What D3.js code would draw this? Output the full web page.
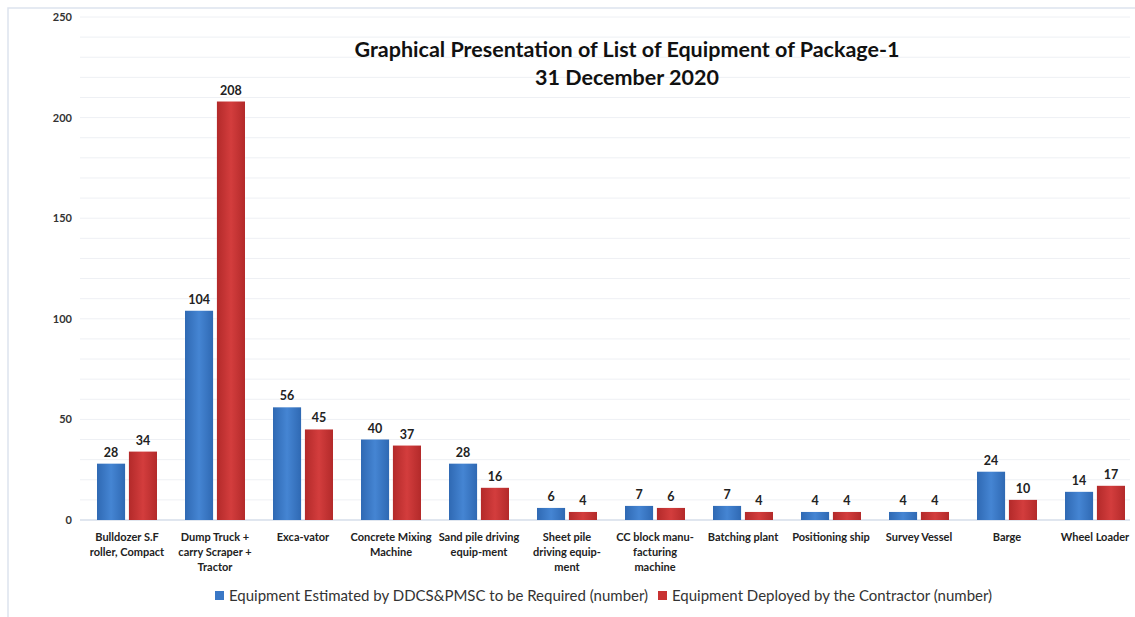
<!DOCTYPE html>
<html>
<head>
<meta charset="utf-8">
<script src="https://cdn.jsdelivr.net/npm/d3@7"></script>
<style>
  body { margin: 0; background: #fff; }
  text { font-family: Lato, "Open Sans", sans-serif; }
</style>
</head>
<body>
<script>
// chart data
var categories = [
  ['Bulldozer S.F', 'roller, Compact'],
  ['Dump Truck +', 'carry Scraper +', 'Tractor'],
  ['Exca-vator'],
  ['Concrete Mixing', 'Machine'],
  ['Sand pile driving', 'equip-ment'],
  ['Sheet pile', 'driving equip-', 'ment'],
  ['CC block manu-', 'facturing', 'machine'],
  ['Batching plant'],
  ['Positioning ship'],
  ['Survey Vessel'],
  ['Barge'],
  ['Wheel Loader']
];
var estimated = [28, 104, 56, 40, 28, 6, 7, 7, 4, 4, 24, 14];
var deployed = [34, 208, 45, 37, 16, 4, 6, 4, 4, 4, 10, 17];
var seriesNames = [
  'Equipment Estimated by DDCS&PMSC to be Required (number)',
  'Equipment Deployed by the Contractor (number)'
];
var yTicks = [0, 50, 100, 150, 200, 250];

var width = 1135;
var height = 617;
var colors = ['#3a78c6', '#c83232'];

var svg = d3.select('body').append('svg')
  .attr('width', width)
  .attr('height', height);

// gradients for the slightly shaded bars
var defs = svg.append('defs');
[['gBlue', '#2f69b3', '#4585d3'], ['gRed', '#b32a2a', '#d33d3d']].forEach(function (g) {
  var lg = defs.append('linearGradient').attr('id', g[0])
    .attr('x1', '0%').attr('x2', '100%').attr('y1', '0%').attr('y2', '0%');
  lg.append('stop').attr('offset', '0%').attr('stop-color', g[1]);
  lg.append('stop').attr('offset', '50%').attr('stop-color', g[2]);
  lg.append('stop').attr('offset', '100%').attr('stop-color', g[1]);
});
var fills = ['url(#gBlue)', 'url(#gRed)'];

// faint frame
svg.append('path')
  .attr('d', 'M8,' + height + 'V8H' + width)
  .attr('fill', 'none')
  .attr('stroke', '#dde3ee')
  .attr('stroke-width', 1.5);

var y = d3.scaleLinear().domain([0, 250]).range([520, 17]);
var x = d3.scaleBand().domain(d3.range(categories.length)).range([83, 1139]);
var x1 = d3.scaleBand().domain([0, 1]).range([14, 74]).paddingInner(0.12);

// gridlines every 10
svg.append('g').selectAll('line').data(d3.range(10, 251, 10))
  .enter().append('line')
  .attr('x1', 80).attr('x2', 1130)
  .attr('y1', function (d) { return y(d); })
  .attr('y2', function (d) { return y(d); })
  .attr('stroke', '#eef0f4')
  .attr('stroke-width', 1);

// baseline
svg.append('line')
  .attr('x1', 80).attr('x2', 1130)
  .attr('y1', y(0)).attr('y2', y(0))
  .attr('stroke', '#d6deea')
  .attr('stroke-width', 1.5);

// y axis labels
svg.append('g').selectAll('text').data(yTicks)
  .enter().append('text')
  .attr('x', 72)
  .attr('y', function (d) { return y(d) + 4; })
  .attr('text-anchor', 'end')
  .attr('font-size', 11)
  .attr('font-weight', 'bold')
  .attr('fill', '#333')
  .text(function (d) { return d; });

// bars
var groups = svg.append('g').selectAll('g').data(categories)
  .enter().append('g')
  .attr('transform', function (d, i) { return 'translate(' + x(i) + ',0)'; });

var series = [estimated, deployed];
groups.each(function (d, i) {
  var g = d3.select(this);
  series.forEach(function (s, k) {
    g.append('rect')
      .attr('x', x1(k))
      .attr('width', x1.bandwidth())
      .attr('y', y(s[i]))
      .attr('height', y(0) - y(s[i]))
      .attr('fill', fills[k]);
    g.append('text')
      .attr('x', x1(k) + x1.bandwidth() / 2)
      .attr('y', y(s[i]) - 7)
      .attr('text-anchor', 'middle')
      .attr('font-size', 12.5)
      .attr('font-weight', 'bold')
      .attr('fill', '#222')
      .text(s[i]);
  });
  // category label
  var t = g.append('text')
    .attr('text-anchor', 'middle')
    .attr('font-size', 11)
    .attr('font-weight', 'bold')
    .attr('fill', '#222');
  d.forEach(function (line, j) {
    t.append('tspan')
      .attr('x', x.bandwidth() / 2)
      .attr('y', 541 + j * 15)
      .text(line);
  });
});

// title
svg.append('text')
  .attr('x', 627).attr('y', 57)
  .attr('text-anchor', 'middle')
  .attr('font-size', 21.5)
  .attr('font-weight', 'bold')
  .attr('fill', '#111')
  .text('Graphical Presentation of List of Equipment of Package-1');
svg.append('text')
  .attr('x', 627).attr('y', 85)
  .attr('text-anchor', 'middle')
  .attr('font-size', 21.5)
  .attr('font-weight', 'bold')
  .attr('fill', '#111')
  .text('31 December 2020');

// legend
var legendX = [215, 658];
seriesNames.forEach(function (name, k) {
  svg.append('rect')
    .attr('x', legendX[k]).attr('y', 591)
    .attr('width', 9).attr('height', 9)
    .attr('fill', colors[k]);
  svg.append('text')
    .attr('x', legendX[k] + 14).attr('y', 601)
    .attr('font-size', 15)
    .attr('fill', '#333')
    .text(name);
});
</script>
</body>
</html>
